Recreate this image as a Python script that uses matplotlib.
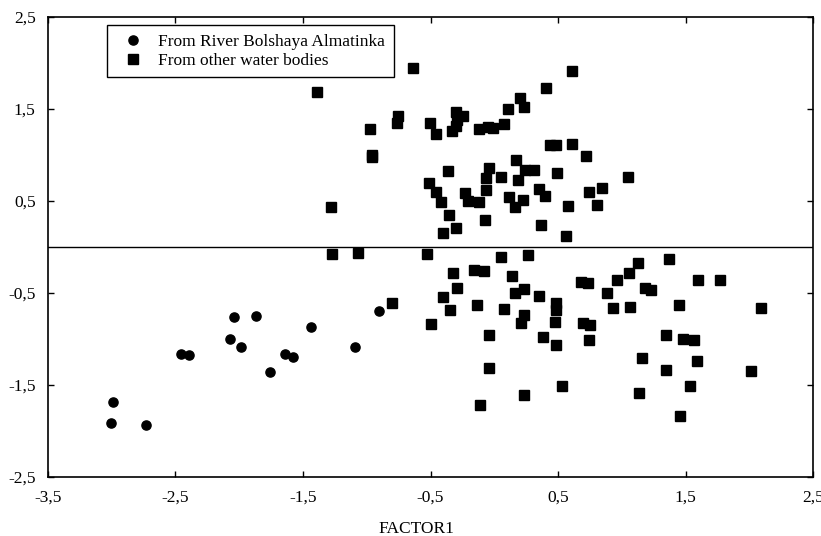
import matplotlib
matplotlib.use('Agg')
import matplotlib.pyplot as plt
from matplotlib.ticker import FuncFormatter

plt.rcParams['font.family'] = ['Liberation Serif', 'DejaVu Serif']

# Factor scores
river_x = [-2.993, -3.008, -2.734, -2.454, -2.394, -2.073, -2.039, -1.989,
           -1.871, -1.759, -1.641, -1.576, -1.440, -1.090, -0.901]
river_y = [-1.68, -1.91, -1.935, -1.163, -1.174, -1.0, -0.757, -1.083,
           -0.75, -1.359, -1.167, -1.196, -0.866, -1.09, -0.692]

other_x = [
    # above zero
    -1.393, -0.972, -0.956, -0.960, -0.757, -0.765, -1.278, -0.635, 0.610,
    0.406, 0.205, 0.236, 0.106, -0.302, -0.243, -0.295, -0.302, -0.331,
    -0.504, -0.457, -0.120, -0.047, -0.012, 0.076, 0.437, 0.482, 0.612,
    0.720, 0.171, -0.360, -0.039, -0.067, 0.051, 0.241, 0.314, 0.186,
    0.490, 1.047, -0.509, -0.459, -0.420, -0.232, -0.206, -0.120, -0.067,
    0.113, 0.223, 0.163, 0.354, 0.398, 0.576, 0.746, 0.845, 0.806,
    -0.352, -0.073, -0.400, -0.302, 0.364, 0.560,
    # below zero
    -1.273, -1.066, -0.800, -0.530, 0.053, 0.262, 1.125, 1.368, -0.326,
    -0.156, -0.080, 0.143, -0.295, -0.400, -0.347, -0.499, -0.138, -0.041,
    -0.041, -0.114, 0.079, 0.163, 0.233, 0.233, 0.207, 0.233, 0.354,
    0.380, 0.482, 0.482, 0.476, 0.482, 0.534, 0.677, 0.733, 0.693, 0.753,
    0.740, 0.887, 0.960, 0.929, 1.059, 1.065, 1.182, 1.232, 1.156, 1.135,
    1.347, 1.345, 1.451, 1.478, 1.567, 1.457, 1.533, 1.593, 1.600, 1.771,
    2.014, 2.092,
]
other_y = [
    1.685, 1.279, 1.0, 0.98, 1.424, 1.351, 0.438, 1.942, 1.913,
    1.732, 1.623, 1.518, 1.497, 1.464, 1.424, 1.38, 1.315, 1.261,
    1.351, 1.225, 1.286, 1.30, 1.293, 1.334, 1.112, 1.105, 1.12,
    0.993, 0.946, 0.826, 0.855, 0.753, 0.761, 0.837, 0.837, 0.732,
    0.808, 0.757, 0.699, 0.601, 0.486, 0.590, 0.497, 0.486, 0.62,
    0.547, 0.511, 0.432, 0.627, 0.554, 0.446, 0.598, 0.638, 0.457,
    0.351, 0.297, 0.149, 0.207, 0.236, 0.116,
    -0.08, -0.07, -0.605, -0.073, -0.105, -0.087, -0.170, -0.134, -0.286,
    -0.25, -0.261, -0.315, -0.442, -0.54, -0.685, -0.837, -0.634, -0.957,
    -1.319, -1.721, -0.678, -0.496, -0.46, -0.743, -0.83, -1.609, -0.533,
    -0.975, -0.612, -0.685, -0.815, -1.065, -1.511, -0.377, -0.388, -0.822, -0.844,
    -1.011, -0.503, -0.359, -0.667, -0.286, -0.649, -0.442, -0.464, -1.21, -1.583,
    -0.957, -1.333, -0.634, -1.003, -1.011, -1.837, -1.511, -1.236, -0.359, -0.359,
    -1.345, -0.659,
]

ticks_x = [-3.5, -2.5, -1.5, -0.5, 0.5, 1.5, 2.5]
ticks_y = [-2.5, -1.5, -0.5, 0.5, 1.5, 2.5]

fig = plt.figure(figsize=(8.21, 5.36), dpi=100)
ax = fig.add_axes([48 / 821, 59 / 536, 765 / 821, 460 / 536])

ax.plot(river_x, river_y, 'o', color='black', ms=6.6, label='From River Bolshaya Almatinka')
ax.plot(other_x, other_y, 's', color='black', ms=7, label='From other water bodies')
ax.axhline(0, color='black', lw=1)

ax.set_xlim(-3.5, 2.5)
ax.set_ylim(-2.5, 2.5)
comma = FuncFormatter(lambda v, pos: f'{v:.1f}'.replace('.', ','))
ax.set_xticks(ticks_x)
ax.set_yticks(ticks_y)
ax.xaxis.set_major_formatter(comma)
ax.yaxis.set_major_formatter(comma)
ax.tick_params(direction='in', length=4, width=1, labelsize=12.5,
               top=True, right=True)
ax.tick_params(axis='x', pad=9)
ax.tick_params(axis='y', pad=9)
for s in ax.spines.values():
    s.set_linewidth(1.2)

ax.set_xlabel('FACTOR1', fontsize=12.5)
ax.xaxis.set_label_coords(0.481, -0.096)

leg = ax.legend(loc='upper left', bbox_to_anchor=(107 / 821, 1 - 25 / 536),
                bbox_transform=fig.transFigure, fontsize=12.5, frameon=True,
                fancybox=False, edgecolor='black', framealpha=1,
                handletextpad=0.44, borderpad=0.5, labelspacing=0.15,
                handlelength=2.0, borderaxespad=0)
leg.get_frame().set_linewidth(1)

fig.savefig('out.png', dpi=100)
